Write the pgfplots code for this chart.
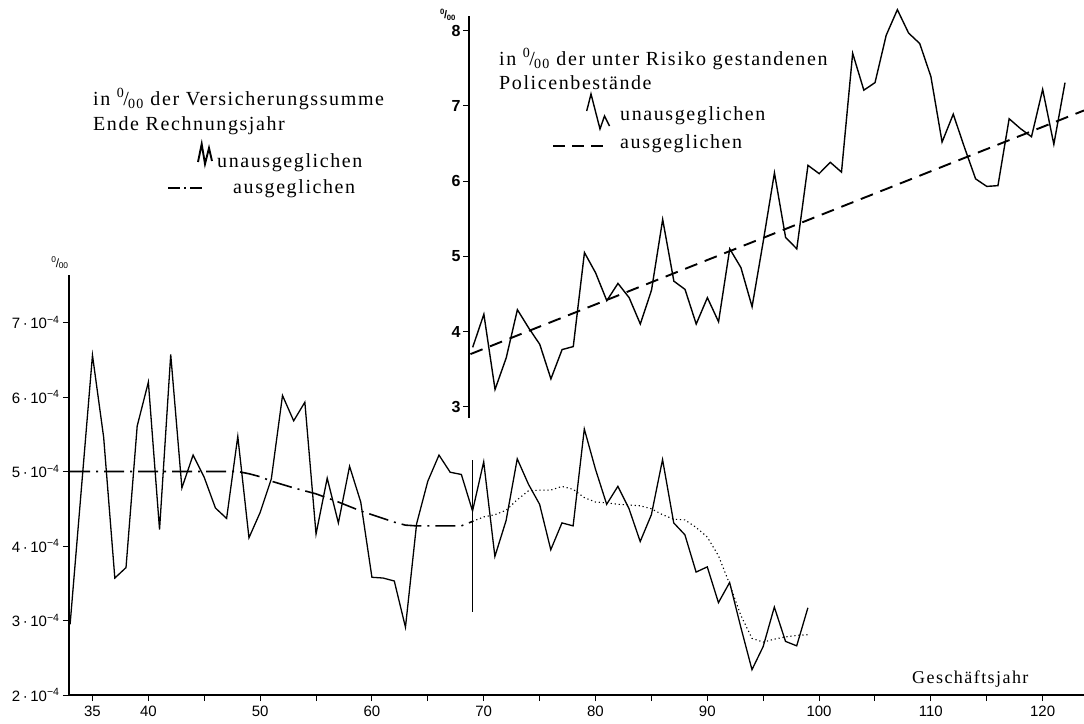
\documentclass[border=0pt]{standalone}
\usepackage{fontspec}
\setmainfont{Liberation Serif}[LetterSpace=8]
\newfontfamily\tickfont{Liberation Sans}
\usepackage{pgfplots}
\pgfplotsset{compat=1.18}
\newcommand\prom{\textsuperscript{0}\kern-.06em/\kern-.03em\textsubscript{00}}
\newcommand\ytl[1]{#1\,·\,10\textsuperscript{−4}}
\begin{document}
\begin{tikzpicture}
\useasboundingbox (0,0) rectangle (1084bp,-724bp);
% ---------------- main chart ----------------
\begin{axis}[
  at={(69bp,-695bp)}, anchor=south west,
  scale only axis, width=1015bp, height=420.2bp,
  xmin=32.9, xmax=123.7, ymin=2, ymax=7.64,
  axis x line=bottom, axis y line=left,
  axis line style={-, line width=1.6bp},
  xtick={35,40,...,120},
  xticklabels={35,40,,50,,60,,70,,80,,90,,100,,110,,120},
  ytick={2,3,4,5,6,7},
  yticklabels={\ytl{2},\ytl{3},\ytl{4},\ytl{5},\ytl{6},\ytl{7}},
  tick align=outside, major tick length=6bp,
  every tick/.style={black, line width=0.9bp},
  yticklabel style={font=\tickfont\fontsize{15bp}{17bp}\selectfont},
  xticklabel style={font=\tickfont\fontsize{15bp}{17bp}\selectfont, yshift=-1bp},
  clip=false,
]
\addplot[black, line width=1.3bp, line join=miter] coordinates {
(33,2.95)(35,6.56)(36,5.46)(37,3.57)(38,3.71)(39,5.61)(40,6.20)(41,4.22)(42,6.57)
(43,4.78)(44,5.22)(45,4.92)(46,4.51)(47,4.37)(48,5.47)(49,4.11)(50,4.45)(51,4.90)
(52,6.02)(53,5.68)(54,5.93)(55,4.16)(56,4.91)(57,4.31)(58,5.07)(59,4.59)(60,3.58)
(61,3.57)(62,3.53)(63,2.91)(64,4.30)(65,4.87)(66,5.22)(67,4.99)(68,4.96)(69,4.47)
(70,5.13)(71,3.86)(72,4.34)(73,5.17)(74,4.83)(75,4.56)(76,3.95)(77,4.31)(78,4.27)
(79,5.57)(80,5.03)(81,4.56)(82,4.80)(83,4.50)(84,4.06)(85,4.42)(86,5.16)(87,4.31)
(88,4.15)(89,3.65)(90,3.72)(91,3.24)(92,3.51)(93,2.91)(94,2.34)(95,2.65)(96,3.18)
(97,2.72)(98,2.66)(99,3.17)};
\addplot[black, line width=1.6bp, dash pattern=on 20bp off 6bp on 2bp off 6bp] coordinates {
(33,5.00)(48,5.00)(49,4.97)(50,4.93)(51,4.87)(53,4.78)(55,4.70)(57,4.59)(59,4.47)
(61,4.37)(62,4.32)(63,4.28)(64,4.27)(68,4.27)(69,4.33)};
\addplot[black, line width=1.1bp, dash pattern=on 1.2bp off 2.8bp] coordinates {
(69,4.33)(70,4.39)(71,4.42)(72,4.48)(73,4.62)(74,4.74)(75,4.75)(76,4.75)(77,4.80)
(78,4.76)(79,4.65)(80,4.59)(81,4.58)(82,4.56)(83,4.55)(84,4.54)(85,4.50)(86,4.42)
(87,4.36)(88,4.35)(89,4.25)(90,4.12)(91,3.87)(92,3.49)(93,3.07)(94,2.76)(95,2.71)
(96,2.75)(97,2.78)(98,2.80)(99,2.81)};
\addplot[black, line width=1.7bp] coordinates {(69,3.12)(69,5.16)};
\end{axis}
% ---------------- inset chart ----------------
\begin{axis}[
  at={(469bp,-418bp)}, anchor=south west,
  scale only axis, width=615bp, height=402.3bp,
  xmin=68.67, xmax=123.7, ymin=2.85, ymax=8.2,
  axis y line=left, axis x line=none,
  axis line style={-, line width=1.6bp},
  ytick={3,4,5,6,7,8},
  yticklabels={3,4,5,6,7,8},
  tick align=outside, major tick length=6bp,
  every tick/.style={black, line width=0.9bp},
  yticklabel style={font=\tickfont\bfseries\fontsize{16bp}{18bp}\selectfont, xshift=1bp},
  clip=false,
]
\addplot[black, line width=1.4bp, line join=miter] coordinates {
(69,3.79)(70,4.23)(71,3.23)(72,3.65)(73,4.29)(74,4.05)(75,3.83)(76,3.37)(77,3.76)
(78,3.80)(79,5.05)(80,4.78)(81,4.41)(82,4.64)(83,4.45)(84,4.10)(85,4.55)(86,5.49)
(87,4.67)(88,4.56)(89,4.10)(90,4.45)(91,4.13)(92,5.10)(93,4.85)(94,4.33)(95,5.20)
(96,6.11)(97,5.25)(98,5.10)(99,6.21)(100,6.10)(101,6.25)(102,6.12)(103,7.70)
(104,7.21)(105,7.31)(106,7.94)(107,8.28)(108,7.97)(109,7.83)(110,7.39)(111,6.52)
(112,6.89)(113,6.45)(114,6.03)(115,5.93)(116,5.94)(117,6.83)(118,6.70)(119,6.59)
(120,7.22)(121,6.49)(122,7.31)};
\addplot[black, line width=1.9bp, dash pattern=on 13bp off 8bp] coordinates {
(68.8,3.70)(123.7,6.94)};
\end{axis}
% ---------------- texts ----------------
\begin{scope}[every node/.style={font=\fontsize{20bp}{23bp}\selectfont, inner sep=0pt}]
\node[anchor=base west] at (93bp,-105bp) {in \prom\ der Versicherungssumme};
\node[anchor=base west] at (93bp,-130bp) {Ende Rechnungsjahr};
\node[anchor=base west] at (217bp,-167bp) {unausgeglichen};
\node[anchor=base west] at (233bp,-193bp) {ausgeglichen};
\node[anchor=base west] at (499bp,-65bp) {in \prom\ der unter Risiko gestandenen};
\node[anchor=base west] at (499bp,-89bp) {Policenbestände};
\node[anchor=base west] at (620bp,-120bp) {unausgeglichen};
\node[anchor=base west] at (620bp,-148bp) {ausgeglichen};
\node[anchor=base west, font=\fontsize{18bp}{21bp}\selectfont] at (912bp,-683bp) {Geschäftsjahr};
\end{scope}
\node[font=\tickfont\fontsize{12bp}{14bp}\selectfont, inner sep=0pt] at (60bp,-263bp) {\prom};
\node[font=\tickfont\bfseries\fontsize{11bp}{13bp}\selectfont, inner sep=0pt] at (448bp,-15bp) {\prom};
% legend glyphs
\draw[line width=1.9bp, line join=miter] (198bp,-162bp) -- (201.7bp,-144bp) -- (205bp,-164bp) -- (209bp,-148bp) -- (212bp,-161bp);
\draw[line width=1.9bp, dash pattern=on 12bp off 4bp on 2bp off 4bp on 12bp off 50bp] (168bp,-188bp) -- (202bp,-188bp);
\draw[line width=1.4bp, line join=miter] (586.7bp,-111bp) -- (591bp,-94bp) -- (600bp,-129bp) -- (604.5bp,-116bp) -- (609.5bp,-126bp);
\draw[line width=1.8bp, dash pattern=on 12bp off 7bp] (553bp,-146bp) -- (603bp,-146bp);
\end{tikzpicture}
\end{document}
